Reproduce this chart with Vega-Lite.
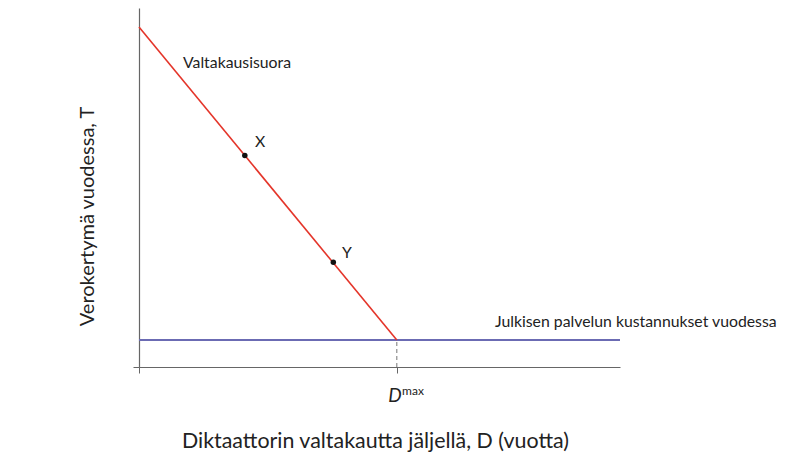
{
  "$schema": "https://vega.github.io/schema/vega-lite/v6.json",
  "width": 481,
  "height": 359,
  "autosize": {"type": "none"},
  "padding": {"left": 139, "top": 8, "right": 190, "bottom": 96},
  "background": "white",
  "config": {"view": {"stroke": null}, "font": "Lato"},
  "datasets": {
    "red": [{"D": 0, "T": 94.7}, {"D": 53.6, "T": 7.52}],
    "blue": [{"D": 0, "T": 7.52}, {"D": 100, "T": 7.52}],
    "pts": [{"D": 22.0, "T": 58.9, "name": "X"}, {"D": 40.4, "T": 29.2, "name": "Y"}],
    "labels": [
      {"D": 9.15, "T": 83.3, "txt": "Valtakausisuora"},
      {"D": 24.1, "T": 61.3, "txt": "X"},
      {"D": 42.2, "T": 30.4, "txt": "Y"},
      {"D": 74.0, "T": 11.1, "txt": "Julkisen palvelun kustannukset vuodessa"}
    ],
    "dmax": [{"D": 53.6, "T0": 0, "T1": 7.52}],
    "dlab": [{"D": 51.8, "T": -9.75, "txt": "D"}],
    "mlab": [{"D": 54.7, "T": -7.8, "txt": "max"}]
  },
  "layer": [
    {
      "data": {"name": "blue"},
      "mark": {"type": "line", "color": "#6b6bb3", "strokeWidth": 2},
      "encoding": {
        "x": {"field": "D", "type": "quantitative", "scale": {"domain": [0, 100], "nice": false, "zero": false},
          "axis": {"values": [0, 53.6], "labels": false, "grid": false, "domainColor": "#666", "tickColor": "#666", "tickSize": 6, "domainWidth": 1.2,
            "title": "Diktaattorin valtakautta jäljellä, D (vuotta)", "titleFont": "Lato", "titleFontSize": 21.4, "titleFontWeight": "normal", "titleColor": "#222",
            "titleX": 236, "titleY": 80, "titleAlign": "center", "titleBaseline": "alphabetic"}},
        "y": {"field": "T", "type": "quantitative", "scale": {"domain": [0, 100], "nice": false, "zero": false},
          "axis": {"values": [0], "labels": false, "grid": false, "domainColor": "#666", "tickColor": "#666", "tickSize": 6, "domainWidth": 1.2,
            "title": "Verokertymä vuodessa, T", "titleFont": "Lato", "titleFontSize": 20, "titleFontWeight": "normal", "titleColor": "#222",
            "titleX": -46, "titleY": 208, "titleAngle": -90, "titleAlign": "center", "titleBaseline": "alphabetic"}}
      }
    },
    {
      "data": {"name": "red"},
      "mark": {"type": "line", "color": "#e4352a", "strokeWidth": 1.6},
      "encoding": {"x": {"field": "D", "type": "quantitative"}, "y": {"field": "T", "type": "quantitative"}}
    },
    {
      "data": {"name": "dmax"},
      "mark": {"type": "rule", "color": "#777", "strokeDash": [4, 3], "strokeWidth": 1},
      "encoding": {"x": {"field": "D", "type": "quantitative"}, "y": {"field": "T0", "type": "quantitative"}, "y2": {"field": "T1"}}
    },
    {
      "data": {"name": "pts"},
      "mark": {"type": "point", "filled": true, "color": "#111", "size": 30, "opacity": 1},
      "encoding": {"x": {"field": "D", "type": "quantitative"}, "y": {"field": "T", "type": "quantitative"}}
    },
    {
      "data": {"name": "labels"},
      "mark": {"type": "text", "align": "left", "baseline": "alphabetic", "fontSize": 15.8, "color": "#222", "font": "Lato"},
      "encoding": {"x": {"field": "D", "type": "quantitative"}, "y": {"field": "T", "type": "quantitative"}, "text": {"field": "txt"}}
    },
    {
      "data": {"name": "dlab"},
      "mark": {"type": "text", "align": "left", "baseline": "alphabetic", "fontSize": 19, "fontStyle": "italic", "color": "#222", "font": "Lato"},
      "encoding": {"x": {"field": "D", "type": "quantitative"}, "y": {"field": "T", "type": "quantitative"}, "text": {"field": "txt"}}
    },
    {
      "data": {"name": "mlab"},
      "mark": {"type": "text", "align": "left", "baseline": "alphabetic", "fontSize": 12, "color": "#222", "font": "Lato"},
      "encoding": {"x": {"field": "D", "type": "quantitative"}, "y": {"field": "T", "type": "quantitative"}, "text": {"field": "txt"}}
    }
  ]
}
